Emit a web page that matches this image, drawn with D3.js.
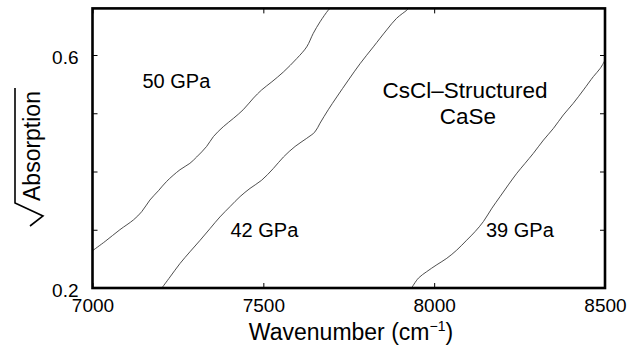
<!DOCTYPE html>
<html>
<head>
<meta charset="utf-8">
<script src="https://cdn.jsdelivr.net/npm/d3@7"></script>
<style>
  html, body { margin: 0; padding: 0; background: #fff; }
  svg { display: block; font-family: "Liberation Sans", Arial, Helvetica, sans-serif; }
</style>
</head>
<body>
<svg id="chart" width="637" height="349"></svg>
<script>
// Absorption edge spectra of CsCl-structured CaSe at three pressures
const wavenumber50 = [7000, 7037, 7080, 7120, 7144, 7168, 7193, 7217, 7256, 7285, 7305, 7334, 7354, 7383, 7412, 7441, 7471, 7495, 7525, 7559, 7598, 7627, 7646, 7666, 7690, 7695];
const sqrtAbs50    = [0.264, 0.280, 0.300, 0.317, 0.331, 0.351, 0.367, 0.383, 0.403, 0.414, 0.425, 0.443, 0.460, 0.477, 0.491, 0.506, 0.526, 0.540, 0.554, 0.571, 0.594, 0.614, 0.637, 0.657, 0.677, 0.680];

const wavenumber42 = [7203, 7227, 7256, 7285, 7315, 7344, 7373, 7403, 7432, 7461, 7495, 7529, 7559, 7593, 7627, 7651, 7666, 7690, 7715, 7749, 7783, 7822, 7861, 7890, 7920, 7925];
const sqrtAbs42    = [0.200, 0.219, 0.242, 0.262, 0.282, 0.302, 0.322, 0.340, 0.357, 0.371, 0.385, 0.405, 0.425, 0.443, 0.457, 0.468, 0.483, 0.506, 0.528, 0.557, 0.585, 0.614, 0.643, 0.663, 0.677, 0.680];

const wavenumber39 = [7934, 7954, 7978, 8008, 8037, 8066, 8095, 8120, 8144, 8169, 8193, 8217, 8242, 8266, 8290, 8320, 8349, 8378, 8407, 8437, 8466, 8486, 8500];
const sqrtAbs39    = [0.200, 0.217, 0.228, 0.240, 0.251, 0.265, 0.282, 0.297, 0.314, 0.337, 0.357, 0.377, 0.397, 0.414, 0.431, 0.454, 0.474, 0.497, 0.517, 0.540, 0.563, 0.577, 0.591];

const pressureLabels = ["50 GPa", "42 GPa", "39 GPa"];
const xTickValues = [7000, 7500, 8000, 8500];
const xTickLabels = ["7000", "7500", "8000", "8500"];
const yTickValues = [0.2, 0.3, 0.4, 0.5, 0.6];
const yTickLabels = ["0.2", "", "", "", "0.6"];
const xDomain = [7000, 8500];
const yDomain = [0.2, 0.68];

const svg = d3.select("#chart");
const plotLeft = 92.5, plotRight = 605, plotTop = 8.4, plotBottom = 288;

const x = d3.scaleLinear().domain(xDomain).range([plotLeft, plotRight]);
const y = d3.scaleLinear().domain(yDomain).range([plotBottom, plotTop]);

svg.append("defs").append("clipPath").attr("id", "plotClip")
  .append("rect")
  .attr("x", plotLeft).attr("y", plotTop)
  .attr("width", plotRight - plotLeft).attr("height", plotBottom - plotTop);

// Spectra
const series = [
  { xs: wavenumber50, ys: sqrtAbs50 },
  { xs: wavenumber42, ys: sqrtAbs42 },
  { xs: wavenumber39, ys: sqrtAbs39 }
];
const line = d3.line()
  .x(d => x(d[0]))
  .y(d => y(d[1]))
  .curve(d3.curveCatmullRom.alpha(0.5));

svg.append("g").attr("clip-path", "url(#plotClip)")
  .selectAll("path")
  .data(series)
  .join("path")
  .attr("d", s => line(s.xs.map((v, i) => [v, s.ys[i]])))
  .attr("fill", "none")
  .attr("stroke", "#3a3a3a")
  .attr("stroke-width", 0.9);

// Axes with inward ticks
const tickFont = "19px";
const xLabelOf = v => xTickLabels[xTickValues.indexOf(v)];
const yLabelOf = v => yTickLabels[yTickValues.findIndex(t => Math.abs(t - v) < 1e-9)];

const gx = svg.append("g").attr("transform", `translate(0,${plotBottom})`)
  .call(d3.axisBottom(x).tickValues(xTickValues).tickFormat(xLabelOf)
    .tickSizeInner(-5).tickSizeOuter(0).tickPadding(11));
gx.selectAll("text").style("font-size", tickFont).attr("fill", "#000");

const gy = svg.append("g").attr("transform", `translate(${plotLeft},0)`)
  .call(d3.axisLeft(y).tickValues(yTickValues).tickFormat(yLabelOf)
    .tickSizeInner(-5).tickSizeOuter(0).tickPadding(14));
gy.selectAll("text").style("font-size", tickFont).attr("dy", "0.45em").attr("fill", "#000");

svg.append("g").attr("transform", `translate(0,${plotTop})`)
  .call(d3.axisTop(x).tickValues(xTickValues).tickFormat("")
    .tickSizeInner(-5).tickSizeOuter(0));

svg.append("g").attr("transform", `translate(${plotRight},0)`)
  .call(d3.axisRight(y).tickValues(yTickValues).tickFormat("")
    .tickSizeInner(-5).tickSizeOuter(0));

svg.selectAll(".domain").remove();
svg.selectAll(".tick line").attr("stroke", "#000").attr("stroke-width", 1);

// Plot frame
svg.append("rect")
  .attr("x", plotLeft).attr("y", plotTop)
  .attr("width", plotRight - plotLeft).attr("height", plotBottom - plotTop)
  .attr("fill", "none").attr("stroke", "#000").attr("stroke-width", 2.6);

// X axis title with superscript
const xt = svg.append("text")
  .attr("x", 351).attr("y", 340)
  .attr("text-anchor", "middle")
  .style("font-size", "23px");
xt.append("tspan").text("Wavenumber (cm");
xt.append("tspan").attr("dy", -9).style("font-size", "14px").text("−1");
xt.append("tspan").attr("dy", 9).text(")");

// Y axis title: radical sign over "Absorption"
const ylab = svg.append("g");
ylab.append("text")
  .attr("transform", "translate(39.5,201) rotate(-90)")
  .style("font-size", "23px")
  .text("Absorption");
ylab.append("path")
  .attr("d", "M30,226 L43,216 L15,203 L15,88")
  .attr("fill", "none").attr("stroke", "#000").attr("stroke-width", 1.6)
  .attr("stroke-linejoin", "miter");

// Pressure labels
const labelPos = [
  { x: 142.5, y: 88 },
  { x: 230.5, y: 237 },
  { x: 486, y: 237 }
];
svg.append("g").selectAll("text")
  .data(pressureLabels)
  .join("text")
  .attr("x", (d, i) => labelPos[i].x)
  .attr("y", (d, i) => labelPos[i].y)
  .style("font-size", "20px")
  .text(d => d);

svg.append("text")
  .attr("x", 465).attr("y", 98)
  .attr("text-anchor", "middle")
  .style("font-size", "22.5px")
  .text("CsCl–Structured");
svg.append("text")
  .attr("x", 468).attr("y", 123.5)
  .attr("text-anchor", "middle")
  .style("font-size", "22.5px")
  .text("CaSe");
</script>
</body>
</html>
